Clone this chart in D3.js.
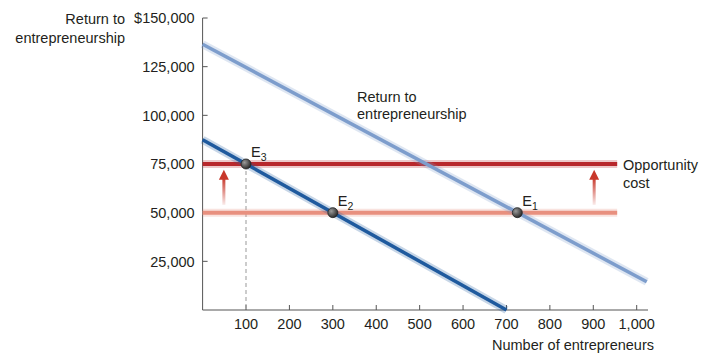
<!DOCTYPE html>
<html>
<head>
<meta charset="utf-8">
<title>entrepreneurship</title>
<style>
body { margin: 0; background: #fff; overflow: hidden; }
svg text { font-family: "Liberation Sans", Arial, sans-serif; fill: #231f20; font-size: 14.5px; }
</style>
<script src="https://d3js.org/d3.v7.min.js"></script>
</head>
<body>
<script>
// values
const xTicks = [100, 200, 300, 400, 500, 600, 700, 800, 900, 1000];
const yTicks = [25000, 50000, 75000, 100000, 125000, 150000];
const upperReturn = [[0, 136500], [1023, 14500]];
const lowerReturn = [[0, 87500], [700, 0]];
const oldCost = [[0, 50000], [955, 50000]];
const newCost = [[0, 75000], [955, 75000]];
const arrowX = [49, 902];
const arrowFrom = 54000, arrowTo = 72000;
const points = [
  {sub: "1", x: 725, y: 50000},
  {sub: "2", x: 300, y: 50000},
  {sub: "3", x: 100, y: 75000}
];

const W = 720, H = 358;
const svg = d3.select("body").append("svg").attr("width", W).attr("height", H);

const x = d3.scaleLinear().domain([0, 1000]).range([202.6, 636.7]);
const y = d3.scaleLinear().domain([0, 150000]).range([310, 18]);

const defs = svg.append("defs");
const ag = defs.append("linearGradient").attr("id", "arrowGrad")
  .attr("x1", 0).attr("y1", 1).attr("x2", 0).attr("y2", 0);
ag.append("stop").attr("offset", "0%").attr("stop-color", "#c8382b").attr("stop-opacity", 0.1);
ag.append("stop").attr("offset", "100%").attr("stop-color", "#c8382b").attr("stop-opacity", 1);
const dg = defs.append("radialGradient").attr("id", "dotGrad").attr("cx", "35%").attr("cy", "35%").attr("r", "65%");
dg.append("stop").attr("offset", "0%").attr("stop-color", "#9a9a9a");
dg.append("stop").attr("offset", "100%").attr("stop-color", "#2e2e2e");

// axes
const axisColor = "#555";
const yAxis = svg.append("g").attr("transform", `translate(${x(0)},0)`);
yAxis.append("line").attr("y1", y(150000)).attr("y2", y(0)).attr("stroke", axisColor).attr("stroke-width", 1);
yTicks.forEach(v => {
  yAxis.append("line").attr("x1", 0).attr("x2", 5).attr("y1", y(v)).attr("y2", y(v))
    .attr("stroke", axisColor);
  yAxis.append("text").attr("x", -8).attr("y", y(v)).attr("dy", "0.36em")
    .attr("text-anchor", "end")
    .text((v === 150000 ? "$" : "") + d3.format(",")(v));
});

const xAxis = svg.append("g").attr("transform", `translate(0,${y(0)})`);
xAxis.append("line").attr("x1", x(0)).attr("x2", 648).attr("stroke", axisColor);
xTicks.forEach(v => {
  xAxis.append("line").attr("x1", x(v)).attr("x2", x(v)).attr("y1", 0).attr("y2", -5)
    .attr("stroke", axisColor);
  xAxis.append("text").attr("x", x(v)).attr("y", 19).attr("text-anchor", "middle")
    .text(d3.format(",")(v));
});

svg.append("text").attr("x", 125).attr("y", 24).attr("text-anchor", "end").text("Return to");
svg.append("text").attr("x", 125).attr("y", 43).attr("text-anchor", "end").text("entrepreneurship");
svg.append("text").attr("x", 654).attr("y", 350).attr("text-anchor", "end").text("Number of entrepreneurs");

const line = d3.line().x(d => x(d[0])).y(d => y(d[1]));

// dashed guide under E3
svg.append("line").attr("x1", x(100)).attr("x2", x(100)).attr("y1", y(75000)).attr("y2", y(0))
  .attr("stroke", "#999").attr("stroke-width", 1).attr("stroke-dasharray", "4,3");

// opportunity cost lines
[[oldCost, "#e8907f"], [newCost, "#b8282c"]].forEach(([d, c]) => {
  svg.append("path").datum(d).attr("d", line).attr("fill", "none")
    .attr("stroke", c).attr("stroke-opacity", 0.25).attr("stroke-width", 8);
  svg.append("path").datum(d).attr("d", line).attr("fill", "none")
    .attr("stroke", c).attr("stroke-width", 4);
});

// return lines
[[upperReturn, "#7d9dcc"], [lowerReturn, "#1f5a9e"]].forEach(([d, c]) => {
  svg.append("path").datum(d).attr("d", line).attr("fill", "none")
    .attr("stroke", c).attr("stroke-opacity", 0.25).attr("stroke-width", 8);
  svg.append("path").datum(d).attr("d", line).attr("fill", "none")
    .attr("stroke", c).attr("stroke-width", 3.5);
});

// arrows
arrowX.forEach(a => {
  const g = svg.append("g");
  g.append("rect").attr("x", x(a) - 1.5).attr("y", y(arrowTo) + 8)
    .attr("width", 3).attr("height", y(arrowFrom) - y(arrowTo) - 8).attr("fill", "url(#arrowGrad)");
  g.append("path")
    .attr("d", `M${x(a) - 5},${y(arrowTo) + 10} L${x(a)},${y(arrowTo)} L${x(a) + 5},${y(arrowTo) + 10} Z`)
    .attr("fill", "#c8382b");
});

// equilibrium points
points.forEach(p => {
  svg.append("circle").attr("cx", x(p.x)).attr("cy", y(p.y)).attr("r", 5)
    .attr("fill", "url(#dotGrad)").attr("stroke", "#222").attr("stroke-width", 0.8);
  const t = svg.append("text").attr("x", x(p.x) + 5).attr("y", y(p.y) - 7);
  t.append("tspan").text("E");
  t.append("tspan").attr("dy", 4).style("font-size", "10.5px").text(p.sub);
});

// curve labels
svg.append("text").attr("x", 357).attr("y", 102).text("Return to");
svg.append("text").attr("x", 357).attr("y", 119).text("entrepreneurship");
svg.append("text").attr("x", 623).attr("y", 170).text("Opportunity");
svg.append("text").attr("x", 623).attr("y", 188).text("cost");
</script>
</body>
</html>
